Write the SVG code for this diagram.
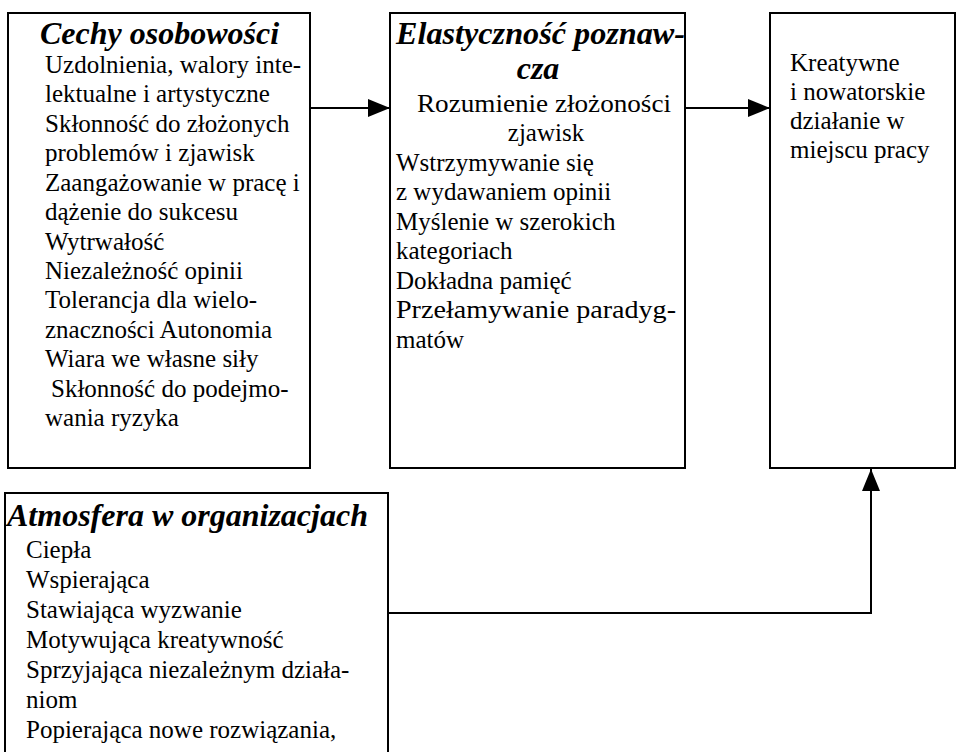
<svg xmlns="http://www.w3.org/2000/svg" width="960" height="752" viewBox="0 0 960 752">
<defs>
<marker id="ah" markerWidth="22" markerHeight="18" refX="22" refY="9" orient="auto" markerUnits="userSpaceOnUse">
<path d="M0,0 L22,9 L0,18 Z" fill="#000"/>
</marker>
<style>
.box{fill:#fff;stroke:#000;stroke-width:2}
.t{font-family:"Liberation Serif","Times New Roman",serif;font-size:25px;fill:#000}
.h{font-family:"Liberation Serif","Times New Roman",serif;font-size:32px;font-weight:bold;font-style:italic;fill:#000}
.c{fill:none;stroke:#000;stroke-width:2}
</style>
</defs>
<rect width="960" height="752" fill="#fff"/>
<g id="cechy">
<rect class="box" x="8" y="13" width="302" height="455"/>
<text class="h" x="40" y="44">Cechy osobowości</text>
<text class="t" x="45" y="73">Uzdolnienia, walory inte-</text>
<text class="t" x="45" y="102">lektualne i artystyczne</text>
<text class="t" x="45" y="132">Skłonność do złożonych</text>
<text class="t" x="45" y="161">problemów i zjawisk</text>
<text class="t" x="45" y="191">Zaangażowanie w pracę i</text>
<text class="t" x="45" y="220">dążenie do sukcesu</text>
<text class="t" x="45" y="250">Wytrwałość</text>
<text class="t" x="45" y="279">Niezależność opinii</text>
<text class="t" x="45" y="308">Tolerancja dla wielo-</text>
<text class="t" x="45" y="338">znaczności Autonomia</text>
<text class="t" x="45" y="367">Wiara we własne siły</text>
<text class="t" x="51" y="397">Skłonność do podejmo-</text>
<text class="t" x="45" y="426">wania ryzyka</text>
</g>
<g id="elastycznosc">
<rect class="box" x="390" y="13" width="295" height="455"/>
<text class="h" x="396" y="44" textLength="289" lengthAdjust="spacingAndGlyphs">Elastyczność poznaw-</text>
<text class="h" x="538" y="79" text-anchor="middle">cza</text>
<text class="t" x="544" y="112" text-anchor="middle" textLength="254" lengthAdjust="spacingAndGlyphs">Rozumienie złożoności</text>
<text class="t" x="546" y="141" text-anchor="middle">zjawisk</text>
<text class="t" x="396" y="171">Wstrzymywanie się</text>
<text class="t" x="396" y="200">z wydawaniem opinii</text>
<text class="t" x="396" y="230">Myślenie w szerokich</text>
<text class="t" x="396" y="259">kategoriach</text>
<text class="t" x="396" y="289">Dokładna pamięć</text>
<text class="t" x="396" y="318" textLength="280" lengthAdjust="spacingAndGlyphs">Przełamywanie paradyg-</text>
<text class="t" x="396" y="348">matów</text>
</g>
<g id="kreatywne">
<rect class="box" x="770" y="13" width="185" height="455"/>
<text class="t" x="790" y="71">Kreatywne</text>
<text class="t" x="790" y="100">i nowatorskie</text>
<text class="t" x="790" y="129">działanie w</text>
<text class="t" x="790" y="158">miejscu pracy</text>
</g>
<g id="atmosfera">
<rect class="box" x="5" y="493" width="383" height="280"/>
<text class="h" x="7" y="526">Atmosfera w organizacjach</text>
<text class="t" x="26" y="558">Ciepła</text>
<text class="t" x="26" y="588">Wspierająca</text>
<text class="t" x="26" y="618">Stawiająca wyzwanie</text>
<text class="t" x="26" y="648">Motywująca kreatywność</text>
<text class="t" x="26" y="678">Sprzyjająca niezależnym działa-</text>
<text class="t" x="26" y="708">niom</text>
<text class="t" x="26" y="738">Popierająca nowe rozwiązania,</text>
</g>
<g id="connectors">
<line class="c" x1="310" y1="108" x2="390" y2="108" marker-end="url(#ah)"/>
<line class="c" x1="685" y1="108" x2="770" y2="108" marker-end="url(#ah)"/>
<polyline class="c" points="388,613 871,613 871,469" marker-end="url(#ah)"/>
</g>
</svg>
